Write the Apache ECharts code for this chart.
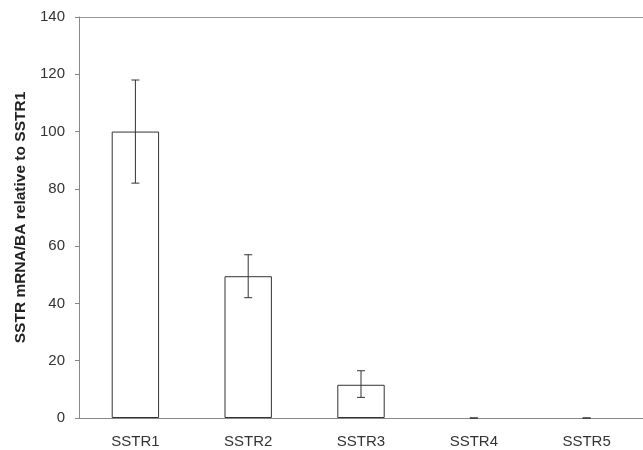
<!DOCTYPE html>
<html><head><meta charset="utf-8">
<script src="https://cdn.jsdelivr.net/npm/echarts@6/dist/echarts.min.js"></script>
<style>html,body{margin:0;padding:0;background:#fff}#c{width:643px;height:450px}</style>
</head><body><div id="c"></div>
<script>
const categories = ['SSTR1','SSTR2','SSTR3','SSTR4','SSTR5'];
const values = [100, 49.5, 11.6, 0, 0];
const errLow = [82, 42, 7.2, 0, 0];
const errHigh = [118, 57, 16.5, 0, 0];
const yTicks = [0, 20, 40, 60, 80, 100, 120, 140];

const chart = echarts.init(document.getElementById('c'));
const errData = categories.map((c, i) => [i, errLow[i], errHigh[i]]);
chart.setOption({
  animation: false,
  grid: {left: 79, right: 0, top: 17, bottom: 32},
  xAxis: {
    type: 'category', data: categories,
    axisLine: {lineStyle: {color: '#888', width: 1}},
    axisTick: {show: false},
    axisLabel: {color: '#333', fontSize: 15, fontFamily: 'Liberation Sans, Arial', margin: 16}
  },
  yAxis: {
    type: 'value', min: yTicks[0], max: yTicks[yTicks.length - 1], interval: 20,
    name: 'SSTR mRNA/BA relative to SSTR1', nameLocation: 'middle', nameGap: 50,
    nameTextStyle: {fontSize: 15.5, fontWeight: 'bold', color: '#222', fontFamily: 'Liberation Sans, Arial'},
    axisLine: {show: true, lineStyle: {color: '#888', width: 1}},
    axisTick: {show: true, length: 4, lineStyle: {color: '#888'}},
    splitLine: {show: false},
    axisLabel: {color: '#333', fontSize: 15, fontFamily: 'Liberation Sans, Arial', margin: 14}
  },
  series: [
    {
      type: 'bar', data: values.map(v => v === 0 ? '-' : v), barWidth: '42%',
      itemStyle: {color: '#fff', borderColor: '#333', borderWidth: 1}
    },
    {
      type: 'custom', data: errData, z: 10,
      renderItem: function (params, api) {
        const x = api.value(0);
        const lo = api.coord([x, api.value(1)]);
        const hi = api.coord([x, api.value(2)]);
        const hw = 4;
        const st = {stroke: '#333', lineWidth: 1};
        return {type: 'group', children: [
          {type: 'line', shape: {x1: lo[0], y1: lo[1], x2: hi[0], y2: hi[1]}, style: st},
          {type: 'line', shape: {x1: lo[0]-hw, y1: lo[1], x2: lo[0]+hw, y2: lo[1]}, style: st},
          {type: 'line', shape: {x1: hi[0]-hw, y1: hi[1], x2: hi[0]+hw, y2: hi[1]}, style: st}
        ]};
      }
    }
  ]
});
chart.setOption({graphic: [{type: 'line', shape: {x1: 79, y1: 17.5, x2: 643, y2: 17.5}, style: {stroke: '#999', lineWidth: 1}}]});
</script></body></html>
